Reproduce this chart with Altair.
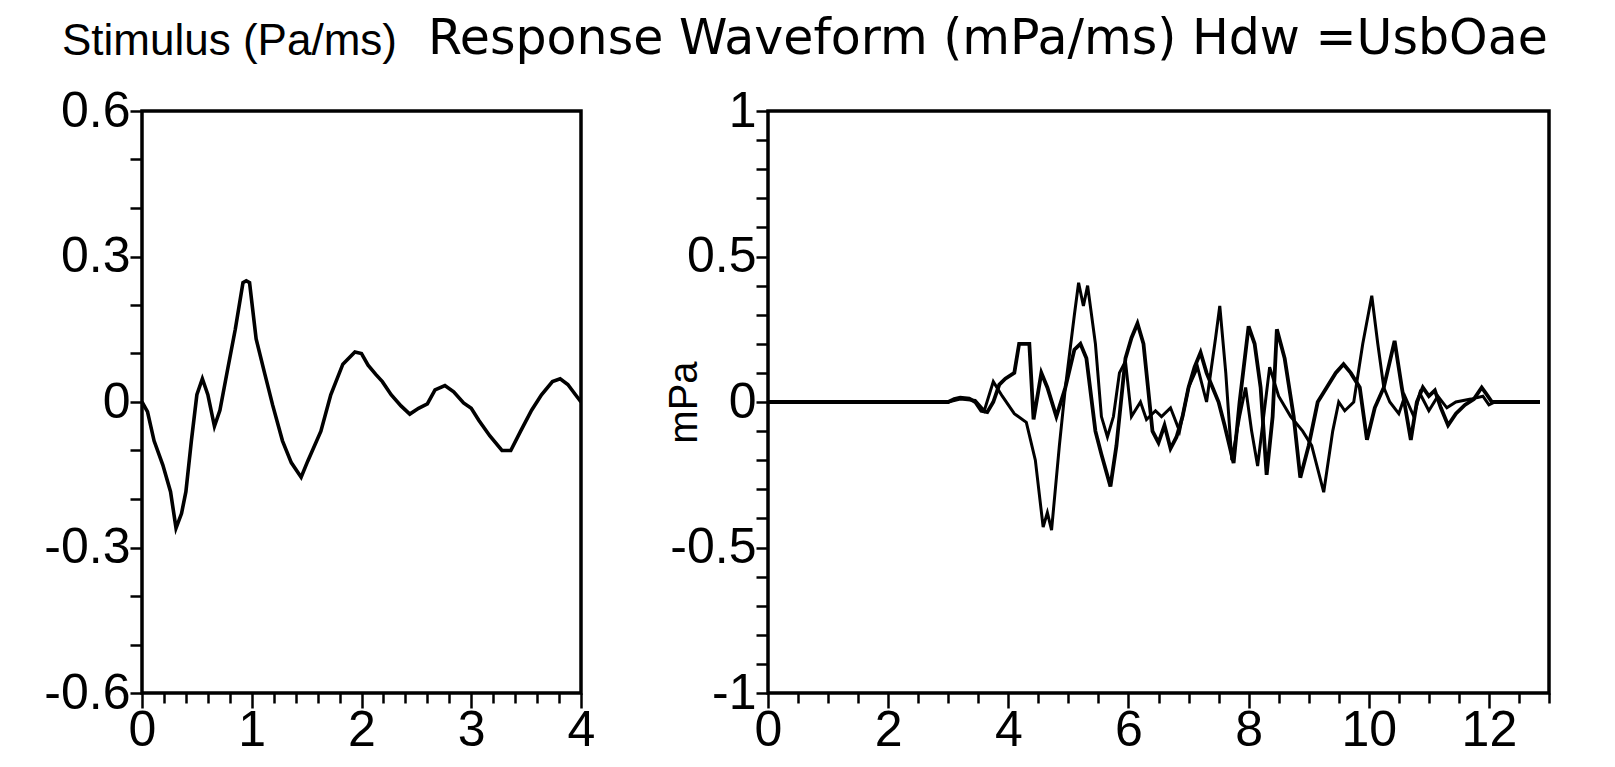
import altair as alt
import pandas as pd

# ---------------- data ----------------
stim_t = [0.0, 0.05, 0.11, 0.19, 0.26, 0.31, 0.36, 0.40, 0.45, 0.50, 0.55, 0.60, 0.66, 0.71,
          0.78, 0.85, 0.92, 0.95, 0.98, 1.04, 1.12, 1.19, 1.28, 1.36, 1.45, 1.51, 1.63, 1.72,
          1.83, 1.94, 2.00, 2.06, 2.13, 2.19, 2.27, 2.36, 2.44, 2.52, 2.60, 2.67, 2.76, 2.84,
          2.93, 3.00, 3.07, 3.17, 3.28, 3.36, 3.45, 3.55, 3.64, 3.74, 3.81, 3.88, 3.95, 4.00]
stim_v = [0.0, -0.02, -0.08, -0.13, -0.185, -0.26, -0.23, -0.185, -0.08, 0.015, 0.048, 0.015,
          -0.05, -0.017, 0.067, 0.15, 0.246, 0.25, 0.246, 0.13, 0.057, -0.006, -0.08, -0.125,
          -0.155, -0.122, -0.06, 0.015, 0.078, 0.103, 0.10, 0.076, 0.057, 0.042, 0.015, -0.008,
          -0.025, -0.013, -0.004, 0.025, 0.034, 0.021, -0.002, -0.013, -0.038, -0.07, -0.1,
          -0.1, -0.06, -0.017, 0.015, 0.042, 0.048, 0.036, 0.015, 0.0]

resp_a_t = [0.0, 1.0, 2.0, 3.0, 3.2, 3.45, 3.6, 3.75, 3.9, 4.1, 4.3, 4.45, 4.58, 4.65, 4.72,
            4.85, 4.95, 5.1, 5.17, 5.25, 5.32, 5.45, 5.55, 5.65, 5.75, 5.85, 5.95, 6.05, 6.2,
            6.3, 6.45, 6.55, 6.7, 6.85, 7.0, 7.15, 7.3, 7.45, 7.52, 7.62, 7.72, 7.85, 7.95,
            8.05, 8.15, 8.25, 8.35, 8.5, 8.7, 8.9, 9.05, 9.25, 9.4, 9.5, 9.6, 9.75, 9.9, 10.05,
            10.15, 10.25, 10.35, 10.5, 10.6, 10.75, 10.85, 11.0, 11.15, 11.3, 11.45, 11.7, 11.9,
            12.0, 12.1, 12.85]
resp_a_v = [0.0, 0.0, 0.0, 0.0, 0.01, 0.005, -0.03, 0.07, 0.02, -0.04, -0.07, -0.2, -0.43,
            -0.38, -0.44, -0.15, 0.05, 0.3, 0.41, 0.33, 0.40, 0.2, -0.05, -0.12, -0.05, 0.1,
            0.14, -0.05, 0.0, -0.06, -0.03, -0.05, -0.02, -0.1, 0.05, 0.12, 0.0, 0.22, 0.33,
            0.1, -0.2, -0.05, 0.05, -0.1, -0.22, -0.05, 0.12, 0.02, -0.05, -0.1, -0.15, -0.31,
            -0.1, 0.0, -0.03, 0.0, 0.2, 0.365, 0.2, 0.05, 0.0, -0.04, 0.02, -0.05, 0.03, -0.03,
            0.02, -0.02, 0.0, 0.01, 0.02, -0.01, 0.0, 0.0]

resp_b_t = [0.0, 1.0, 2.0, 3.0, 3.1, 3.2, 3.35, 3.45, 3.55, 3.65, 3.75, 3.85, 3.95, 4.1, 4.18,
            4.35, 4.42, 4.55, 4.65, 4.8, 4.95, 5.1, 5.2, 5.3, 5.45, 5.55, 5.7, 5.8, 5.95, 6.05,
            6.15, 6.25, 6.4, 6.5, 6.6, 6.7, 6.8, 6.9, 7.0, 7.1, 7.2, 7.3, 7.4, 7.5, 7.6, 7.75,
            7.85, 8.0, 8.1, 8.2, 8.3, 8.4, 8.47, 8.6, 8.75, 8.86, 9.0, 9.15, 9.3, 9.45, 9.58,
            9.7, 9.85, 9.97, 10.1, 10.25, 10.43, 10.55, 10.7, 10.8, 10.9, 11.0, 11.1, 11.2,
            11.32, 11.45, 11.6, 11.75, 11.88, 11.95, 12.05, 12.2, 12.85]
resp_b_v = [0.0, 0.0, 0.0, 0.0, 0.01, 0.015, 0.012, 0.0, -0.03, -0.035, 0.0, 0.06, 0.08, 0.1,
            0.2, 0.2, -0.06, 0.1, 0.05, -0.05, 0.05, 0.18, 0.2, 0.15, -0.1, -0.18, -0.29, -0.15,
            0.15, 0.22, 0.27, 0.2, -0.1, -0.14, -0.08, -0.16, -0.12, -0.05, 0.05, 0.12, 0.17,
            0.1, 0.05, 0.0, -0.08, -0.21, 0.0, 0.26, 0.2, 0.05, -0.25, -0.05, 0.25, 0.15, -0.05,
            -0.26, -0.15, 0.0, 0.05, 0.1, 0.13, 0.1, 0.05, -0.13, -0.02, 0.05, 0.21, 0.05, -0.13,
            0.0, 0.05, 0.02, 0.04, -0.02, -0.08, -0.04, -0.01, 0.01, 0.05, 0.03, 0.0, 0.0, 0.0]

left_x_ticks = [round(i * 0.2, 1) for i in range(21)]
left_y_ticks = [round(-0.6 + i * 0.1, 1) for i in range(13)]
right_x_ticks = [round(i * 0.5, 1) for i in range(27)]
right_y_ticks = [round(-1 + i * 0.1, 1) for i in range(21)]

left_title = "Stimulus (Pa/ms)"
right_title = "Response Waveform (mPa/ms) Hdw =UsbOae"
right_y_title = "mPa"

# ---------------- build ----------------
stim_df = pd.DataFrame({"t": stim_t, "v": stim_v})
resp_df = pd.concat([
    pd.DataFrame({"t": resp_a_t, "v": resp_a_v, "trace": "A"}),
    pd.DataFrame({"t": resp_b_t, "v": resp_b_v, "trace": "B"}),
])

LABEL_FONT = "Liberation Sans, Arial, sans-serif"
TITLE_FONT = "Liberation Sans, Arial, sans-serif"
WIDE_FONT = "DejaVu Sans, Verdana, sans-serif"

int_test = "abs(datum.value - round(datum.value)) < 1e-6"
even_test = "abs(datum.value/2 - round(datum.value/2)) < 1e-6"

common_axis = dict(domain=False, grid=False, tickColor="black", tickWidth=2.5,
                   labelColor="black", labelFont=LABEL_FONT, labelFontSize=50,
                   labelOverlap=False, labelFlush=False, labelBound=False)

left_x_axis = alt.Axis(
    values=left_x_ticks,
    labelExpr=f"{int_test} ? format(datum.value, 'd') : ''",
    tickSize={"condition": {"test": int_test, "value": 15}, "value": 10},
    labelPadding=-3, title=None, **common_axis)
left_y_axis = alt.Axis(
    values=left_y_ticks,
    labelExpr=("abs(datum.value/0.3 - round(datum.value/0.3)) < 1e-6 ? "
               "(abs(datum.value) < 1e-9 ? '0' : (datum.value < 0 ? '-' : '') + format(abs(datum.value), '.1f')) : ''"),
    tickSize=12, labelPadding=0, title=None, **common_axis)

right_x_axis = alt.Axis(
    values=right_x_ticks,
    labelExpr=f"({even_test} && datum.value <= 12) ? format(datum.value, 'd') : ''",
    tickSize={"condition": {"test": even_test, "value": 15}, "value": 10},
    labelPadding=-3, title=None, **common_axis)
right_y_axis = alt.Axis(
    values=right_y_ticks,
    labelExpr=("abs(datum.value/0.5 - round(datum.value/0.5)) < 1e-6 ? "
               "(abs(datum.value) < 1e-9 ? '0' : (datum.value < 0 ? '-' : '') + "
               f"({int_test.replace('datum.value', 'abs(datum.value)')} ? format(abs(datum.value), 'd') : format(abs(datum.value), '.1f'))) : ''"),
    tickSize=12, labelPadding=0,
    title=right_y_title, titleFont=TITLE_FONT, titleFontSize=40, titleFontWeight="normal",
    titleColor="black", titleX=-84, titleY=291, titleBaseline="middle", titleAngle=-90,
    **common_axis)

left = alt.Chart(stim_df).mark_line(color="black", strokeWidth=3.6, clip=True).encode(
    x=alt.X("t:Q", scale=alt.Scale(domain=[0, 4], nice=False, zero=False), axis=left_x_axis),
    y=alt.Y("v:Q", scale=alt.Scale(domain=[-0.6, 0.6], nice=False), axis=left_y_axis),
    order="t:Q",
).properties(
    width=439, height=582,
    title=alt.TitleParams(left_title, anchor="start", frame="group", dx=-80, offset=22,
                          font=TITLE_FONT, fontSize=44, fontWeight="normal", color="black"),
)

right = alt.Chart(resp_df).mark_line(color="black", clip=True).encode(
    x=alt.X("t:Q", scale=alt.Scale(domain=[0, 13], nice=False, zero=False), axis=right_x_axis),
    y=alt.Y("v:Q", scale=alt.Scale(domain=[-1, 1], nice=False), axis=right_y_axis),
    detail="trace:N",
    strokeWidth=alt.StrokeWidth("trace:N", scale=alt.Scale(domain=["A", "B"], range=[3, 3.8]), legend=None),
    order="t:Q",
).properties(
    width=781, height=582,
    title=alt.TitleParams(right_title, anchor="start", frame="group", dx=-340, offset=22,
                          font=WIDE_FONT, fontSize=49, fontWeight="normal", color="black"),
)

chart = alt.hconcat(left, right, spacing=187, bounds="flush").properties(
    padding={"left": 34, "top": 5, "right": 0, "bottom": 0},
    background="white",
).configure_view(stroke="black", strokeWidth=3.5)

chart.save("out.html", embed_options={"renderer": "svg", "actions": False})
